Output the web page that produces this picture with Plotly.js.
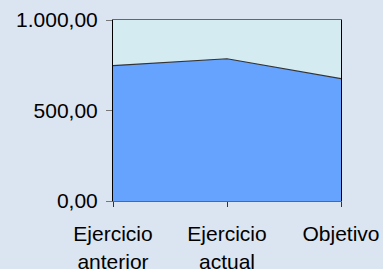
<!DOCTYPE html>
<html><head><meta charset="utf-8">
<script src="https://cdn.plot.ly/plotly-3.0.1.min.js"></script>
<style>html,body{margin:0;padding:0;background:#dbe5f1;}</style>
</head><body>
<div id="chart" style="width:383px;height:269px;"></div>
<script>
const categories = ['Ejercicio<br>anterior', 'Ejercicio<br>actual', 'Objetivo'];
const values = [748, 786, 676];
const yTicks = [0, 500, 1000];

const xIdx = categories.map((c, i) => i);
Plotly.newPlot('chart', [{
  x: xIdx, y: values, type: 'scatter', mode: 'lines', fill: 'tozeroy',
  fillcolor: '#66a3ff', line: {color: '#333333', width: 1.2}, hoverinfo: 'skip'
}], {
  width: 383, height: 269,
  margin: {l: 113, r: 42, t: 20, b: 68},
  paper_bgcolor: '#dbe5f1', plot_bgcolor: '#d3ebf1',
  separators: ',.',
  showlegend: false,
  font: {family: 'Liberation Sans, Arial, sans-serif', size: 21, color: '#000'},
  xaxis: {
    range: [0, 2], tickvals: xIdx, ticktext: categories,
    showgrid: false, zeroline: false, showline: true, linecolor: '#666', linewidth: 1,
    mirror: true, ticks: 'outside', ticklen: 5, tickcolor: '#333',
    ticklabelstandoff: 9
  },
  yaxis: {
    range: [0, 1000], tickvals: yTicks, tickformat: ',.2f',
    showgrid: false, zeroline: false, showline: true, linecolor: '#000', linewidth: 1,
    mirror: true, ticks: 'outside', ticklen: 6, tickcolor: '#777',
    ticklabelstandoff: 4
  }
}, {staticPlot: true});
</script>
</body></html>
